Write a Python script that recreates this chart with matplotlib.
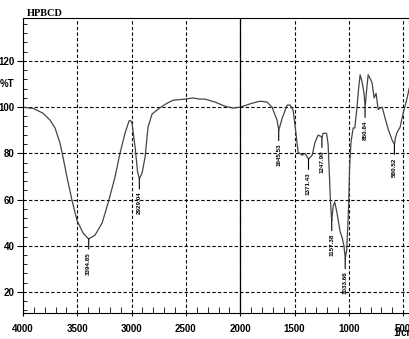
import numpy as np
import matplotlib.pyplot as plt
from matplotlib.ticker import MultipleLocator

# FTIR spectrum of HPBCD, transmittance vs wavenumber
wavenumber = [4000, 3935, 3908, 3816, 3751, 3705, 3659, 3630, 3595, 3549,
              3503, 3447, 3401, 3394, 3337, 3272, 3217, 3153, 3107, 3061,
              3024, 3010, 2996, 2968, 2945, 2929, 2904, 2876, 2849, 2812,
              2738, 2674, 2618, 2508, 2434, 2379, 2324, 2232, 2140, 2066,
              2000, 1891, 1817, 1753, 1707, 1661, 1645, 1614, 1568, 1541,
              1513, 1490, 1467, 1430, 1403, 1371, 1338, 1311, 1283, 1264,
              1247, 1237, 1205, 1191, 1180, 1170, 1160, 1157, 1145, 1130,
              1108, 1080, 1062, 1045, 1033, 1020, 1008, 1000, 993, 980,
              960, 945, 925, 910, 896, 878, 860, 850, 835, 822,
              800, 786, 767, 749, 730, 712, 693, 666, 638, 601,
              580, 570, 555, 528, 500, 463, 445, 420, 400]
transmittance = [100, 99.6, 99.5, 97.4, 94.4, 91, 84.4, 78, 69.7, 59.7,
                 51, 45.5, 43.2, 43, 44.6, 49.8, 58.4, 69.7, 80, 88.7,
                 94, 94.3, 93, 82.7, 72, 69, 71.4, 78.4, 91.3, 97,
                 99.8, 101.7, 103, 103.5, 104, 103.5, 103.5, 102.2, 100.4, 99.6,
                 100, 101.7, 102.6, 102.2, 100, 94.4, 90, 95.2, 100.9, 100.9,
                 98.7, 90, 80.5, 79.2, 80, 77.5, 79.2, 84.8, 87.9, 87.5,
                 87, 88.7, 88.7, 84, 72, 60, 52, 51, 57, 59,
                 54, 46, 43.7, 40, 34.5, 38, 50, 60, 74, 85,
                 91, 91, 100, 108, 114, 111, 106, 100, 108, 114,
                 112, 110.5, 104, 106, 99, 99.6, 100, 95.2, 90.5, 85.7,
                 84, 87, 89.2, 91.3, 97.4, 104, 108, 112, 115]

peak_wn = [3394.85, 2929.04, 1645.53, 1371.43, 1247.90, 1157.38, 1033.66, 850.84, 580.52]
peak_t = [43, 69, 90, 77.5, 87, 51, 34.5, 100, 84]

plt.rcParams['font.family'] = ['Liberation Sans', 'DejaVu Sans']

fig = plt.figure(figsize=(4.09, 3.39), dpi=100)
ax = fig.add_axes([23 / 409, 26 / 339, 391 / 409, 295 / 339])

ax.plot(wavenumber, transmittance, color='#444444', lw=0.9)

for wn, t in zip(peak_wn, peak_t):
    ax.annotate(f"{wn:.2f}", xy=(wn, t), xytext=(0, -13), textcoords='offset pixels',
                rotation=90, ha='center', va='top', fontsize=4.5, fontweight='bold',
                arrowprops=dict(arrowstyle='-', lw=0.8, color='black',
                                shrinkA=0, shrinkB=0))

ax.set_xlim(4000, 400)
ax.set_ylim(10.9, 138.6)

ax.xaxis.set_major_locator(MultipleLocator(500))
ax.xaxis.set_minor_locator(MultipleLocator(100))
ax.yaxis.set_major_locator(MultipleLocator(20))
ax.yaxis.set_minor_locator(MultipleLocator(4))

ax.set_xticks([4000, 3500, 3000, 2500, 2000, 1500, 1000, 500])
ax.set_yticks([20, 40, 60, 80, 100, 120])

ax.grid(True, which='major', color='black', lw=0.8, linestyle=(0, (3, 2)))
ax.axvline(2000, color='black', lw=0.9)

ax.tick_params(axis='x', which='major', direction='out', length=2, pad=6,
               labelsize=7)
ax.tick_params(axis='x', which='minor', direction='in', length=4)
ax.tick_params(axis='y', which='major', direction='out', length=4, pad=2,
               labelsize=7)
ax.tick_params(axis='y', which='minor', direction='in', length=3)
for lbl in ax.get_xticklabels() + ax.get_yticklabels():
    lbl.set_fontweight('bold')

for sp in ax.spines.values():
    sp.set_linewidth(0.8)

fig.text(27 / 409, 1 - 14 / 339, "HPBCD", family='Liberation Serif',
         fontweight='bold', fontsize=7.5, ha='left', va='center')
fig.text(14 / 409, 1 - 84 / 339, "%T", fontweight='bold', fontsize=7,
         ha='right', va='center')
fig.text(393 / 409, 1 - 333 / 339, "1/cm", fontweight='bold', fontsize=7,
         ha='left', va='center')

fig.savefig("out.png", dpi=100)
